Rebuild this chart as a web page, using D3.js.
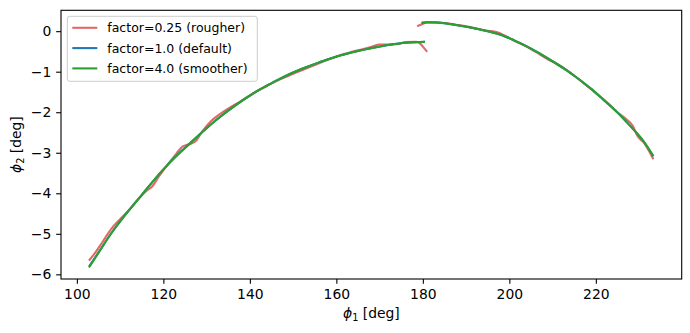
<!DOCTYPE html>
<html>
<head>
<meta charset="utf-8">
<script src="https://cdn.jsdelivr.net/npm/d3@7"></script>
<style>
  html, body { margin: 0; padding: 0; background: #fff; }
  svg { display: block; font-family: "DejaVu Sans", sans-serif; }
</style>
</head>
<body>
<svg id="chart" width="690" height="333"></svg>
<script>
// ---- data ----
const seriesNames = ["factor=0.25 (rougher)", "factor=1.0 (default)", "factor=4.0 (smoother)"];
const seriesColors = ["#d62728", "#1f77b4", "#2ca02c"];
const seriesOpacity = [0.7, 1, 1];

const xTicks = [100, 120, 140, 160, 180, 200, 220];
const yTicks = [-6, -5, -4, -3, -2, -1, 0];

// factor = 0.25 (rougher)
const roughSeg1X = [102.8,104,106,108,110,112,114,116,117.5,119,121,123,124.5,126,127.5,129,131,133,135,138,141,144,147,150,153,156,159,162,165,168,170,172,174,176,178.5,179.5,180.3,181];
const roughSeg1Y = [-5.66,-5.50,-5.19,-4.87,-4.64,-4.42,-4.17,-3.95,-3.82,-3.58,-3.29,-3.02,-2.84,-2.79,-2.71,-2.47,-2.22,-2.05,-1.91,-1.72,-1.52,-1.35,-1.19,-1.05,-0.92,-0.79,-0.67,-0.56,-0.47,-0.39,-0.33,-0.33,-0.32,-0.27,-0.26,-0.32,-0.42,-0.51];
const roughSeg2X = [178.7,179.8,181,183,185,187,189,191,193,195,197,199,201,203,205,207,209,211,213,215,217,219,221,223,225,227,228.5,229.7,231,233.3];
const roughSeg2Y = [0.12,0.17,0.215,0.22,0.20,0.17,0.14,0.10,0.05,0.01,-0.02,-0.11,-0.23,-0.33,-0.44,-0.57,-0.70,-0.81,-0.94,-1.10,-1.27,-1.44,-1.61,-1.80,-2.00,-2.17,-2.33,-2.60,-2.74,-3.16];

// factor = 1.0 (default)
const defSeg1X = [102.8,105,108,111,114,117,120,123,126,129,132,135,138,141,144,147,150,153,156,159,162,165,168,171,174,177,180.5];
const defSeg1Y = [-5.81,-5.46,-4.98,-4.56,-4.17,-3.78,-3.41,-3.08,-2.78,-2.49,-2.21,-1.96,-1.73,-1.52,-1.34,-1.17,-1.02,-0.89,-0.77,-0.66,-0.57,-0.49,-0.42,-0.36,-0.31,-0.28,-0.26];
const defSeg2X = [179.7,181,183,185,187,189,191,193,195,197,199,201,203,205,207,209,211,213,215,217,219,221,223,225,227,229,231,233.3];
const defSeg2Y = [0.21,0.22,0.215,0.195,0.165,0.13,0.09,0.045,0.0,-0.06,-0.13,-0.22,-0.32,-0.43,-0.55,-0.68,-0.81,-0.95,-1.10,-1.26,-1.43,-1.62,-1.81,-2.01,-2.23,-2.46,-2.71,-3.09];

// factor = 4.0 (smoother)
const smoothSeg1X = [102.8,105,108,111,114,117,120,123,126,129,132,135,138,141,144,147,150,153,156,159,162,165,168,171,174,177,180.5];
const smoothSeg1Y = [-5.83,-5.47,-4.98,-4.56,-4.17,-3.78,-3.41,-3.08,-2.79,-2.49,-2.21,-1.96,-1.73,-1.52,-1.34,-1.17,-1.02,-0.89,-0.77,-0.66,-0.57,-0.49,-0.42,-0.36,-0.31,-0.28,-0.26];
const smoothSeg2X = [179.7,181,183,185,187,189,191,193,195,197,199,201,203,205,207,209,211,213,215,217,219,221,223,225,227,229,231,233.3];
const smoothSeg2Y = [0.21,0.22,0.215,0.195,0.165,0.13,0.09,0.045,0.0,-0.06,-0.13,-0.22,-0.32,-0.43,-0.55,-0.68,-0.81,-0.95,-1.10,-1.26,-1.43,-1.62,-1.81,-2.01,-2.23,-2.46,-2.71,-3.08];

const zip = (xs, ys) => xs.map((x, i) => [x, ys[i]]);
const series = [
  [zip(roughSeg1X, roughSeg1Y), zip(roughSeg2X, roughSeg2Y)],
  [zip(defSeg1X, defSeg1Y), zip(defSeg2X, defSeg2Y)],
  [zip(smoothSeg1X, smoothSeg1Y), zip(smoothSeg2X, smoothSeg2Y)]
];

// ---- layout ----
const svg = d3.select("#chart");
const L = 61, R = 681.7, T = 10.3, B = 279;
const x = d3.scaleLinear().domain([96.33, 239.85]).range([L, R]);
const y = d3.scaleLinear().domain([-6.115, 0.515]).range([B, T]);
const fmt = d => String(d).replace("-", "\u2212");

// lines
const line = d3.line().x(d => x(d[0])).y(d => y(d[1])).curve(d3.curveMonotoneX);
const clip = svg.append("clipPath").attr("id", "clip").append("rect")
  .attr("x", L).attr("y", T).attr("width", R - L).attr("height", B - T);
const g = svg.append("g").attr("clip-path", "url(#clip)");
series.forEach((segs, i) => {
  segs.forEach(seg => {
    g.append("path").attr("d", line(seg)).attr("fill", "none")
      .attr("stroke", seriesColors[i]).attr("stroke-opacity", seriesOpacity[i])
      .attr("stroke-width", 2.08).attr("stroke-linecap", "butt").attr("stroke-linejoin", "round");
  });
});

// axes
const xAxis = d3.axisBottom(x).tickValues(xTicks).tickFormat(fmt).tickSizeInner(4.86).tickSizeOuter(0).tickPadding(4.86);
const yAxis = d3.axisLeft(y).tickValues(yTicks).tickFormat(fmt).tickSizeInner(4.86).tickSizeOuter(0).tickPadding(4.86);
const gx = svg.append("g").attr("transform", `translate(0,${B})`).call(xAxis);
const gy = svg.append("g").attr("transform", `translate(${L},0)`).call(yAxis);
[gx, gy].forEach(a => {
  a.select(".domain").remove();
  a.selectAll("line").attr("stroke", "#000").attr("stroke-width", 1.1);
  a.selectAll("text").attr("fill", "#000").style("font-size", "13.9px").style("font-family", "DejaVu Sans");
});

// frame
svg.append("rect").attr("x", L).attr("y", T).attr("width", R - L).attr("height", B - T)
  .attr("fill", "none").attr("stroke", "#000").attr("stroke-width", 1.1);

// axis labels
const xl = svg.append("text").attr("x", (L + R) / 2).attr("y", 318).attr("text-anchor", "middle")
  .style("font-size", "13.9px").attr("fill", "#000");
xl.append("tspan").style("font-style", "italic").text("ϕ");
xl.append("tspan").attr("dy", 3).style("font-size", "9.7px").text("1");
xl.append("tspan").attr("dy", -3).text(" [deg]");

const yl = svg.append("text").attr("transform", `translate(21,${(T + B) / 2}) rotate(-90)`)
  .attr("text-anchor", "middle").style("font-size", "13.9px").attr("fill", "#000");
yl.append("tspan").style("font-style", "italic").text("ϕ");
yl.append("tspan").attr("dy", 3).style("font-size", "9.7px").text("2");
yl.append("tspan").attr("dy", -3).text(" [deg]");

// legend
const lg = svg.append("g");
lg.append("rect").attr("x", 67.3).attr("y", 16.3).attr("width", 190).attr("height", 65)
  .attr("rx", 2.5).attr("fill", "#fff").attr("fill-opacity", 0.8)
  .attr("stroke", "#cccccc").attr("stroke-width", 1);
seriesNames.forEach((name, i) => {
  const cy = 27.8 + i * 20.3;
  lg.append("line").attr("x1", 72.3).attr("x2", 97.3).attr("y1", cy).attr("y2", cy)
    .attr("stroke", seriesColors[i]).attr("stroke-opacity", seriesOpacity[i]).attr("stroke-width", 2.08);
  lg.append("text").attr("x", 107.3).attr("y", cy + 4.5).style("font-size", "12.5px")
    .attr("fill", "#000").text(name);
});
</script>
</body>
</html>
